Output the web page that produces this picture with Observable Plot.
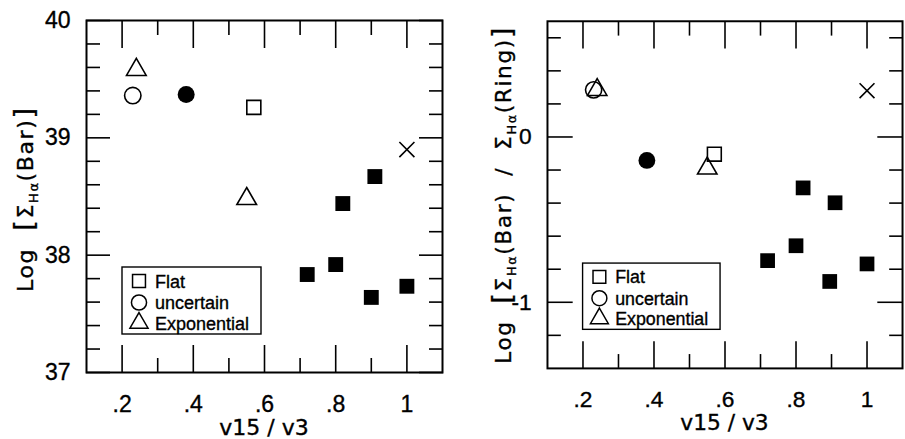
<!DOCTYPE html>
<html><head><meta charset="utf-8">
<script src="https://cdn.jsdelivr.net/npm/d3@7"></script>
<script src="https://cdn.jsdelivr.net/npm/@observablehq/plot@0.6"></script>
<style>
html,body{margin:0;padding:0;overflow:hidden;background:#fff;width:905px;height:439px}
#wrap{position:relative;width:905px;height:439px;overflow:hidden}
#left{position:absolute;left:0;top:0}
#right{position:absolute;left:455px;top:0}
svg{display:block}
svg text{stroke:black;stroke-width:0.35px}
</style></head><body>
<div id="wrap"><div id="left"></div><div id="right"></div></div>
<script>
// ---- data ----
const pointTypes = ["Exponential","uncertain","filledCircle","Flat","cross","Exponential",
  "filledSquare","filledSquare","filledSquare","filledSquare","filledSquare","filledSquare"];
const v15v3Bar   = [0.24, 0.23, 0.38, 0.57, 1.00, 0.55, 0.91, 0.82, 0.80, 0.72, 0.90, 1.00];
const logSigmaBar = [39.58, 39.36, 39.37, 39.26, 38.90, 38.48, 38.67, 38.44, 37.92, 37.835, 37.64, 37.735];
const v15v3Ring  = [0.24, 0.23, 0.38, 0.57, 1.00, 0.55, 0.91, 0.82, 0.80, 0.72, 0.895, 1.00];
const logBarRing = [0.285, 0.285, -0.142, -0.104, 0.28, -0.19, -0.398, -0.308, -0.658, -0.748, -0.874, -0.768];

const xMajorTicks = [0.2, 0.4, 0.6, 0.8, 1.0];
const xTickLabels = [".2", ".4", ".6", ".8", "1"];
const xMinorTicks = [0.3, 0.5, 0.7, 0.9];
const barMajorTicks = [37, 38, 39, 40];
const barTickLabels = ["37", "38", "39", "40"];
const barMinorTicks = [37.2, 37.4, 37.6, 37.8, 38.2, 38.4, 38.6, 38.8, 39.2, 39.4, 39.6, 39.8];
const ringMajorTicks = [-1, 0];
const ringTickLabels = ["-1", "0"];
const ringMinorTicks = [-1.2, -0.8, -0.6, -0.4, -0.2, 0.2, 0.4, 0.6];
const legendLabels = ["Flat", "uncertain", "Exponential"];
const xTitle = "v15 / v3";

// ---- styles ----
const symbolStyle = {
  Flat:         {symbol: "square",   r: 7.9, fill: "none"},
  uncertain:    {symbol: "circle",   r: 8.2, fill: "none"},
  Exponential:  {symbol: "triangle", r: 7.3, fill: "none"},
  filledCircle: {symbol: "circle",   r: 8.5, fill: "black"},
  filledSquare: {symbol: "square",   r: 8.4, fill: "black"},
  cross:        {symbol: "times",    r: 6.9, fill: "none"}
};
const d3Symbols = {square: d3.symbolSquare, circle: d3.symbolCircle, triangle: d3.symbolTriangle, times: d3.symbolTimes};

function makePanel(cfg) {
  const {xs, ys, yDomain, yMajor, yLabels, yMinor, width, marginLeft, marginRight, marginTop, yMajorLen} = cfg;
  const idx = d3.range(xs.length);
  const marks = [];
  const fmtX = d => xTickLabels[xMajorTicks.indexOf(d)];
  const fmtY = d => yLabels[yMajor.indexOf(d)];
  marks.push(
    Plot.axisX(xMajorTicks, {anchor: "bottom", tickSize: 0, tickPadding: 23, tickFormat: fmtX}),
    Plot.axisX(xMajorTicks, {anchor: "bottom", tickSize: 27, dy: -27, text: null, strokeWidth: 1.6}),
    Plot.axisX(xMinorTicks, {anchor: "bottom", tickSize: 14, dy: -14, text: null, strokeWidth: 1.6}),
    Plot.axisX(xMajorTicks, {anchor: "top", tickSize: 27, dy: 27, text: null, strokeWidth: 1.6}),
    Plot.axisX(xMinorTicks, {anchor: "top", tickSize: 14, dy: 14, text: null, strokeWidth: 1.6}),
    Plot.axisY(yMajor, {anchor: "left", tickSize: 0, tickPadding: 16, tickFormat: fmtY}),
    Plot.axisY(yMajor, {anchor: "left", tickSize: yMajorLen, dx: yMajorLen, text: null, strokeWidth: 1.6}),
    Plot.axisY(yMinor, {anchor: "left", tickSize: 14, dx: 14, text: null, strokeWidth: 1.6}),
    Plot.axisY(yMajor, {anchor: "right", tickSize: yMajorLen, dx: -yMajorLen, text: null, strokeWidth: 1.6}),
    Plot.axisY(yMinor, {anchor: "right", tickSize: 14, dx: -14, text: null, strokeWidth: 1.6}),
    Plot.frame({strokeWidth: 2, stroke: "black"})
  );
  for (const t of Object.keys(symbolStyle)) {
    const s = symbolStyle[t];
    marks.push(Plot.dot(idx.filter(i => pointTypes[i] === t), {
      x: i => xs[i], y: i => ys[i], symbol: s.symbol, r: s.r,
      fill: s.fill, stroke: s.fill === "none" ? "black" : "none", strokeWidth: 1.6
    }));
  }
  return Plot.plot({
    width, height: 439, marginLeft, marginRight, marginTop, marginBottom: 67,
    x: {domain: [0.1, 1.1], label: null},
    y: {domain: yDomain, label: null},
    style: {fontFamily: "Liberation Sans, Arial, sans-serif", fontSize: "23px", color: "black", background: "white", overflow: "visible"},
    marks
  });
}

function addXTitle(svg, cx) {
  svg.append("text").attr("x", cx).attr("y", 435).attr("text-anchor", "middle")
    .style("font-family", "DejaVu Sans").style("font-size", "22px").attr("fill", "black").text(xTitle);
}

function addYTitle(svg, x, cy, parts, length) {
  const t = svg.append("text").attr("transform", `translate(${x},${cy}) rotate(-90)`)
    .attr("text-anchor", "middle").style("font-family", "DejaVu Sans").style("font-size", "22px")
    .style("white-space", "pre").attr("fill", "black")
    .attr("textLength", length).attr("lengthAdjust", "spacing");
  let shift = 0;
  for (const p of parts) {
    const ts = t.append("tspan").text(p.t);
    if (p.size) ts.style("font-size", p.size + "px");
    const want = p.sub ? 5 : 0;
    if (want !== shift) { ts.attr("dy", want - shift); shift = want; }
  }
}

function addLegend(svg, x0, y0) {
  const g = svg.append("g").attr("transform", `translate(${x0},${y0})`);
  g.append("rect").attr("width", 139).attr("height", 67).attr("fill", "white").attr("stroke", "black").attr("stroke-width", 1.4);
  const rows = [14, 35.5, 56];
  legendLabels.forEach((lab, i) => {
    const s = symbolStyle[lab];
    g.append("path").attr("d", d3.symbol(d3Symbols[s.symbol], Math.PI * s.r * s.r * 0.85)())
      .attr("transform", `translate(17,${rows[i]})`).attr("fill", "none").attr("stroke", "black").attr("stroke-width", 1.5);
    g.append("text").attr("x", 33).attr("y", rows[i] + 6.5).attr("text-anchor", "start")
      .style("font-family", "Liberation Sans, Arial, sans-serif")
      .style("font-size", "18px").attr("fill", "black").text(lab);
  });
}

// ---- left panel ----
const leftCfg = {xs: v15v3Bar, ys: logSigmaBar, yDomain: [37, 40], yMajor: barMajorTicks, yLabels: barTickLabels,
  yMinor: barMinorTicks, width: 455, marginLeft: 86, marginRight: 13, marginTop: 20, yMajorLen: 24};
const leftPlot = makePanel(leftCfg);
document.getElementById("left").appendChild(leftPlot);
{
  const svg = d3.select(leftPlot);
  addXTitle(svg, (86 + 455 - 13) / 2);
  addYTitle(svg, 33, 200, [
    {t: "Log  "}, {t: "[", size: 27}, {t: "Σ"}, {t: "Hα", size: 13, sub: true}, {t: "(Bar)"}, {t: "]", size: 27}
  ], 184);
  addLegend(svg, 86 + 36, 20 + 247);
}

// ---- right panel ----
const rightCfg = {xs: v15v3Ring, ys: logBarRing, yDomain: [-1.4, 0.7], yMajor: ringMajorTicks, yLabels: ringTickLabels,
  yMinor: ringMinorTicks, width: 455, marginLeft: 93, marginRight: 3, marginTop: 21, yMajorLen: 26};
const rightPlot = makePanel(rightCfg);
document.getElementById("right").appendChild(rightPlot);
{
  const svg = d3.select(rightPlot);
  addXTitle(svg, (93 + 455 - 3) / 2);
  addYTitle(svg, 57, 198, [
    {t: "Log  "}, {t: "[", size: 27}, {t: "Σ"}, {t: "Hα", size: 13, sub: true}, {t: "(Bar)  /  "},
    {t: "Σ"}, {t: "Hα", size: 13, sub: true}, {t: "(Ring)"}, {t: "]", size: 27}
  ], 340);
  addLegend(svg, 93 + 36, 21 + 245);
}
</script>
</body></html>
